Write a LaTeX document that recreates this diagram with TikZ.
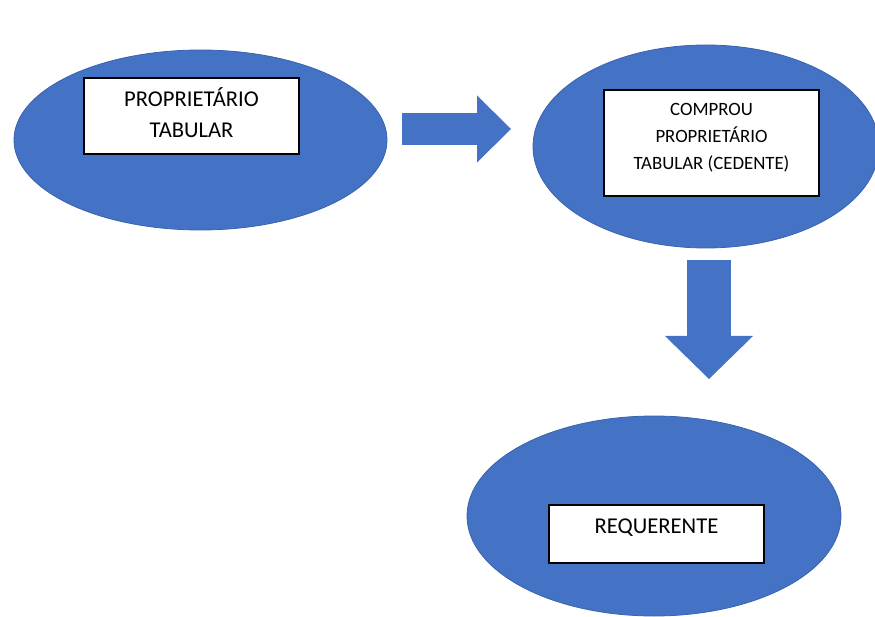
\documentclass[tikz,border=0pt]{standalone}
\usepackage{fontspec}
\setmainfont{Carlito}
\usepackage{tikz}
\usetikzlibrary{shapes.geometric, arrows.meta}
\definecolor{officeblue}{HTML}{4472C4}
\definecolor{officeedge}{HTML}{3A63AD}
\tikzstyle{oval} = [ellipse, fill=officeblue, draw=officeedge, line width=0.8pt]
\tikzstyle{box} = [rectangle, draw=black, fill=white, line width=1.2pt, align=center]
\tikzstyle{fatarrow} = [draw=officeblue]
\tikzset{labelfont/.style 2 args={font=\fontsize{#1}{#2}\selectfont}}

\begin{document}
\begin{tikzpicture}[x=1pt, y=-1pt]
\useasboundingbox (0,0) rectangle (875,617);

\node (owner) [oval, minimum width=373pt, minimum height=180pt] at (200.5,140) {};
\node (buyer) [oval, minimum width=346pt, minimum height=203pt] at (706,146.5) {};
\node (claimant) [oval, minimum width=374pt, minimum height=200pt] at (654,516) {};

\node (ownerbox) [box, labelfont={22.6}{31}, text height=42.5pt, text depth=0pt, minimum width=215pt, minimum height=76pt] at (191.5,116) {PROPRIETÁRIO\\TABULAR};
\node (buyerbox) [box, labelfont={18.8}{27}, text height=54pt, text depth=0pt, minimum width=215pt, minimum height=106pt] at (711.5,143) {COMPROU\\PROPRIETÁRIO\\TABULAR (CEDENTE)};
\node (claimantbox) [box, labelfont={22.6}{27}, text height=14.5pt, text depth=16pt, minimum width=215pt, minimum height=58pt] at (656.5,534) {REQUERENTE};

\coordinate (soldfrom) at (402,129);
\coordinate (soldto) at (511,129);
\coordinate (passfrom) at (709,260);
\coordinate (passto) at (709,379);

\draw [fatarrow, line width=32pt, -{Triangle[length=34pt, width=67pt, line width=0pt]}] (soldfrom) -- (soldto);
\draw [fatarrow, line width=44pt, -{Triangle[length=43pt, width=88pt, line width=0pt]}] (passfrom) -- (passto);
\end{tikzpicture}
\end{document}
